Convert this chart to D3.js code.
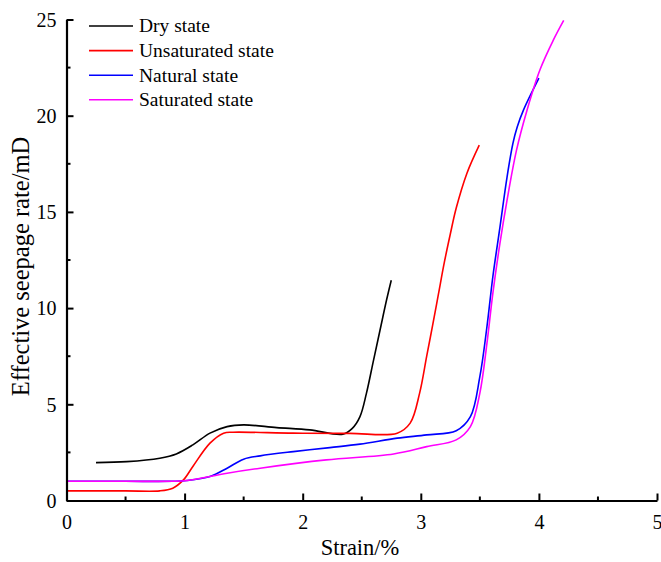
<!DOCTYPE html>
<html>
<head>
<meta charset="utf-8">
<script src="https://cdn.jsdelivr.net/npm/d3@7"></script>
<style>
  html, body { margin: 0; padding: 0; background: #fff; }
  svg { display: block; font-family: "Liberation Serif", "Times New Roman", serif; }
</style>
</head>
<body>
<svg id="chart" width="661" height="562"></svg>
<script>
// Strain (%) vs effective seepage rate (mD) for four moisture states
const seriesNames = ["Dry state", "Unsaturated state", "Natural state", "Saturated state"];
const seriesColors = ["#000000", "#ff0000", "#0000ff", "#ff00ff"];

const dryStrain = [0.25, 0.51, 0.79, 0.93, 1.07, 1.215, 1.36, 1.50, 1.78, 2.06, 2.34, 2.42, 2.485, 2.54, 2.60, 2.655, 2.71, 2.75];
const dryRate   = [1.97, 2.02, 2.20, 2.42, 2.89, 3.50, 3.84, 3.93, 3.79, 3.67, 3.45, 3.75, 4.36, 5.58, 7.30, 8.86, 10.42, 11.45];

const unsatStrain = [0, 0.50, 0.79, 0.90, 0.99, 1.07, 1.215, 1.33, 1.41, 1.92, 2.40, 2.80, 2.91, 2.99, 3.05, 3.10, 3.15, 3.20, 3.25, 3.30, 3.39, 3.495];
const unsatRate   = [0.50, 0.50, 0.50, 0.64, 1.07, 1.77, 2.98, 3.50, 3.55, 3.50, 3.49, 3.50, 4.02, 5.58, 7.50, 9.10, 10.75, 12.40, 13.85, 15.20, 17.00, 18.47];

const natStrain = [0, 0.50, 0.90, 1.02, 1.215, 1.36, 1.50, 1.64, 1.92, 2.23, 2.485, 2.80, 3.05, 3.30, 3.42, 3.50, 3.56, 3.61, 3.67, 3.73, 3.78, 3.817, 3.87, 4.00];
const natRate   = [1.00, 1.00, 1.00, 1.04, 1.25, 1.68, 2.15, 2.32, 2.54, 2.75, 2.93, 3.24, 3.41, 3.63, 4.36, 6.44, 9.03, 11.63, 14.20, 16.80, 18.56, 19.42, 20.30, 21.95];

const satStrain = [0, 0.50, 0.90, 1.02, 1.36, 1.64, 2.20, 2.77, 3.05, 3.30, 3.42, 3.50, 3.56, 3.61, 3.67, 3.73, 3.81, 3.90, 4.01, 4.12, 4.21];
const satRate   = [1.00, 1.00, 1.00, 1.04, 1.42, 1.68, 2.11, 2.42, 2.80, 3.15, 3.84, 5.58, 8.17, 10.77, 13.36, 15.60, 18.20, 20.30, 22.40, 23.90, 24.95];

const xTicks = [0, 1, 2, 3, 4, 5];
const xMinorTicks = [0.5, 1.5, 2.5, 3.5, 4.5];
const yTicks = [0, 5, 10, 15, 20, 25];
const yMinorTicks = [2.5, 7.5, 12.5, 17.5, 22.5];

const xTitle = "Strain/%";
const yTitle = "Effective seepage rate/mD";

const series = [
  { name: seriesNames[0], color: seriesColors[0], xs: dryStrain, ys: dryRate },
  { name: seriesNames[1], color: seriesColors[1], xs: unsatStrain, ys: unsatRate },
  { name: seriesNames[2], color: seriesColors[2], xs: natStrain, ys: natRate },
  { name: seriesNames[3], color: seriesColors[3], xs: satStrain, ys: satRate }
];

const svg = d3.select("#chart");
const plotLeft = 66.5, plotRight = 657, plotTop = 19.5, plotBottom = 500.5;

const x = d3.scaleLinear().domain([0, 5]).range([plotLeft, plotRight]);
const y = d3.scaleLinear().domain([0, 25]).range([plotBottom, plotTop]);

// Smooth curves through the measured points (drawn first so axes sit on top)
const line = d3.line()
  .x(d => x(d[0]))
  .y(d => y(d[1]))
  .curve(d3.curveCatmullRom.alpha(0.5));

svg.append("g")
  .selectAll("path")
  .data(series)
  .join("path")
  .attr("d", s => line(s.xs.map((v, i) => [v, s.ys[i]])))
  .attr("fill", "none")
  .attr("stroke", s => s.color)
  .attr("stroke-width", 1.6)
  .attr("stroke-linejoin", "round");

// Axes with inward ticks
const xAxis = svg.append("g").attr("transform", `translate(0,${plotBottom})`);
xAxis.call(d3.axisBottom(x).tickValues(xTicks).tickSizeInner(-7).tickSizeOuter(0).tickFormat(d3.format("d")));
xAxis.append("g").selectAll("line").data(xMinorTicks).join("line")
  .attr("x1", d => x(d)).attr("x2", d => x(d)).attr("y1", 0).attr("y2", -4)
  .attr("stroke", "#000").attr("stroke-width", 2);

const yAxis = svg.append("g").attr("transform", `translate(${plotLeft},0)`);
yAxis.call(d3.axisLeft(y).tickValues(yTicks).tickSizeInner(-7).tickSizeOuter(0).tickFormat(d3.format("d")));
yAxis.append("g").selectAll("line").data(yMinorTicks).join("line")
  .attr("x1", 0).attr("x2", 4).attr("y1", d => y(d)).attr("y2", d => y(d))
  .attr("stroke", "#000").attr("stroke-width", 2);

[xAxis, yAxis].forEach(g => {
  g.select(".domain").attr("stroke", "#000").attr("stroke-width", 2.2);
  g.selectAll(".tick line").attr("stroke", "#000").attr("stroke-width", 2);
  g.selectAll(".tick text")
    .attr("fill", "#000")
    .attr("font-family", "Liberation Serif, Times New Roman, serif")
    .attr("font-size", 20);
});
xAxis.selectAll(".tick text").attr("y", 14).attr("dy", "0.71em");
yAxis.selectAll(".tick text").attr("x", -10).attr("dy", "0.34em");

// Axis titles
svg.append("text")
  .attr("x", 360)
  .attr("y", 555)
  .attr("text-anchor", "middle")
  .attr("font-size", 22.5)
  .attr("fill", "#000")
  .text(xTitle);

svg.append("text")
  .attr("transform", "translate(29,266.5) rotate(-90)")
  .attr("text-anchor", "middle")
  .attr("font-size", 24.5)
  .attr("fill", "#000")
  .text(yTitle);

// Legend
const legend = svg.append("g").attr("transform", "translate(89,26)");
const rows = legend.selectAll("g").data(series).join("g")
  .attr("transform", (d, i) => `translate(0,${i * 24.6})`);
rows.append("line")
  .attr("x1", 0).attr("x2", 44).attr("y1", 0).attr("y2", 0)
  .attr("stroke", d => d.color).attr("stroke-width", 1.6);
rows.append("text")
  .attr("x", 50).attr("y", 0).attr("dy", "0.33em")
  .attr("font-size", 19.5)
  .attr("fill", "#000")
  .text(d => d.name);
</script>
</body>
</html>
